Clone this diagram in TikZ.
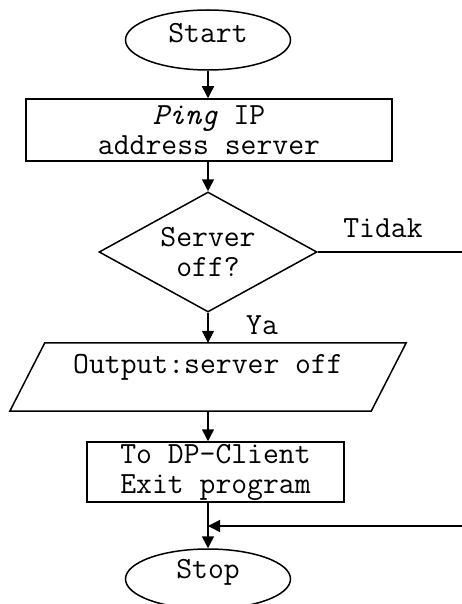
\documentclass[tikz,border=0pt]{standalone}
\usepackage{fontspec}
\usetikzlibrary{shapes.geometric,arrows.meta}
\tikzset{
  x=1pt, y=-1pt,
  every node/.style={font=\ttfamily\fontsize{30.8}{30}\selectfont, inner sep=0pt},
  line/.style={line width=1.5pt},
  arr/.style={line width=1.5pt, -{Triangle[length=12pt,width=12pt]}},
  term/.style={draw, line width=1.5pt, ellipse, minimum width=165, minimum height=60},
  procbox/.style={draw, line width=1.5pt, rectangle, align=center},
  decis/.style={draw, line width=1.5pt, diamond, aspect=1.8, minimum width=218, minimum height=120, align=center},
}
\begin{document}
\begin{tikzpicture}
\useasboundingbox (0,0) rectangle (462,604);
\clip (0,0) rectangle (462,604);
% Start
\node[term] (start) at (208,40) {};
\node (starttxt) at (208,33) {Start};
% Ping box
\node[procbox, minimum width=366, minimum height=62] (ping) at (209,130) {\textit{Ping} IP\\address server};
% Decision
\node[decis] (dec) at (208,252) {Server\\off?};
% Output parallelogram
\node[minimum width=361, minimum height=68] (out) at (208,377) {};
\draw[line] ([xshift=17.5pt]out.north west) -- ([xshift=17.5pt]out.north east)
  -- ([xshift=-17.5pt]out.south east) -- ([xshift=-17.5pt]out.south west) -- cycle;
\node (outtxt) at (208,367) {Output:server off};
% DP box
\node[procbox, minimum width=257, minimum height=60] (dp) at (215.5,472) {To DP-Client\\Exit program};
% Stop
\node[term] (stop) at (208,579) {};
\node (stoptxt) at (208,572) {Stop};
% Connectors
\draw[arr] (start.south) -- (ping.north -| start.south);
\draw[arr] (ping.south -| dec.north) -- (dec.north);
\draw[arr] (dec.south) -- (out.north -| dec.south);
\draw[arr] (out.south -| dec.south) -- (dp.north -| dec.south);
\coordinate (dpbot) at (dp.south -| dec.south);
\draw[arr] (dpbot) -- (stop.north);
\coordinate (tidakend) at (462,252);
\coordinate (mergeend) at (462,526);
\coordinate (mergept) at (dec.south |- mergeend);
\draw[line] (dec.east) -- (tidakend);
\draw[arr] (mergeend) -- (mergept);
% Labels
\node (tidak) at (383,228) {Tidak};
\node (ya) at (262,325) {Ya};
\end{tikzpicture}
\end{document}
